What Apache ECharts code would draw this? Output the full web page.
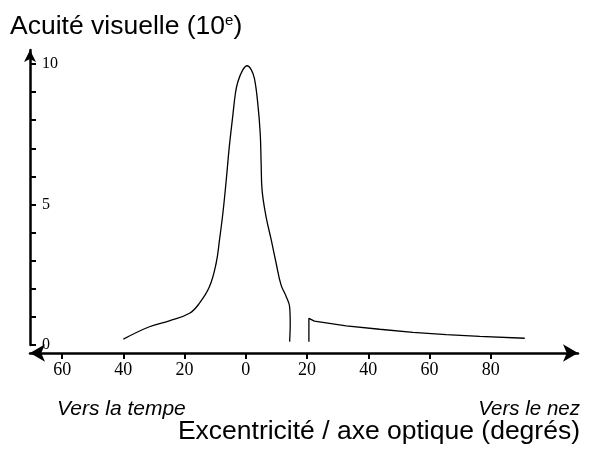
<!DOCTYPE html>
<html>
<head>
<meta charset="utf-8">
<script src="https://cdn.jsdelivr.net/npm/echarts@6/dist/echarts.min.js"></script>
<style>html,body{margin:0;padding:0;background:#fff}#c{width:589px;height:450px}</style>
</head>
<body>
<div id="c"></div>
<script>
// Central (temporal + fovea) part of the acuity curve
const centralX = [-40, -31.5, -25, -18.4, -15.2, -11.9, -9.7, -8.6, -7.5, -6.4, -5.4, -4.3, -3.4, -2.6, -1.0, 0.4, 1.7, 2.8, 3.9, 4.7, 5.0, 5.3, 6.6, 8.3, 9.9, 11.5, 13.2, 14.3, 14.5, 14.3];
const centralY = [0.21, 0.65, 0.86, 1.13, 1.48, 2.07, 2.91, 3.74, 4.69, 5.87, 7.06, 8.12, 8.96, 9.37, 9.79, 9.94, 9.81, 9.49, 8.60, 7.53, 6.47, 5.52, 4.57, 3.74, 2.91, 2.14, 1.72, 1.36, 0.77, 0.12];
// Nasal part (after the blind spot)
const nasalX = [20.6, 20.6, 22.4, 32.8, 43.7, 54.6, 65.5, 76.4, 91.1];
const nasalY = [0.12, 0.95, 0.85, 0.68, 0.56, 0.45, 0.37, 0.31, 0.24];
// Tick labels
const xTicks = [-60, -40, -20, 0, 20, 40, 60, 80];
const yTicks = [0, 1, 2, 3, 4, 5, 6, 7, 8, 9, 10];
const yLabels = [0, 5, 10];

const pair = (xs, ys) => xs.map((x, i) => [x, ys[i]]);

const chart = echarts.init(document.getElementById('c'));
chart.setOption({
  animation: false,
  title: [
    { text: 'Acuité visuelle (10{sup|e})', left: 5, top: 8,
      textStyle: { fontFamily: 'Liberation Sans', fontSize: 26.5, fontWeight: 'normal', color: '#000',
        rich: { sup: { fontFamily: 'Liberation Sans', fontSize: 15, verticalAlign: 'top', padding: [0, 0, 12, 0], color: '#000' } } } },
    { text: 'Vers la tempe', left: 52, top: 394,
      textStyle: { fontFamily: 'Liberation Sans', fontSize: 21, fontStyle: 'italic', fontWeight: 'normal', color: '#000' } },
    { text: 'Vers le nez', right: 4, top: 394,
      textStyle: { fontFamily: 'Liberation Sans', fontSize: 20.5, fontStyle: 'italic', fontWeight: 'normal', color: '#000' } },
    { text: 'Excentricité / axe optique (degrés)', right: 4, top: 413,
      textStyle: { fontFamily: 'Liberation Sans', fontSize: 26.5, fontWeight: 'normal', color: '#000' } }
  ],
  grid: { left: 30, right: 11, top: 50, bottom: 105, containLabel: false },
  xAxis: {
    type: 'value', min: -70.5, max: 108.5, offset: 8,
    splitLine: { show: false },
    axisLine: { onZero: false, lineStyle: { color: '#000', width: 2.5 }, symbol: ['arrow', 'arrow'], symbolSize: [13, 15] },
    axisTick: { customValues: xTicks, length: 6, lineStyle: { color: '#000', width: 2 } },
    axisLabel: { customValues: xTicks, formatter: v => String(Math.abs(v)), margin: 8,
      fontFamily: 'Liberation Serif', fontSize: 18, color: '#000' }
  },
  yAxis: {
    type: 'value', min: 0, max: 10.5,
    splitLine: { show: false },
    axisLine: { onZero: false, lineStyle: { color: '#000', width: 2.5 }, symbol: ['none', 'arrow'], symbolSize: [9, 12] },
    axisTick: { customValues: yTicks, inside: true, length: 6, lineStyle: { color: '#000', width: 2 } },
    axisLabel: { customValues: yLabels, inside: true, margin: 12, padding: [8, 0, 0, 0],
      fontFamily: 'Liberation Serif', fontSize: 16, color: '#000' }
  },
  series: [
    { type: 'line', data: pair(centralX, centralY), smooth: 0.4, symbol: 'none',
      lineStyle: { color: '#000', width: 1.3 } },
    { type: 'line', data: pair(nasalX, nasalY), smooth: false, symbol: 'none',
      lineStyle: { color: '#000', width: 1.3 } }
  ]
});
</script>
</body>
</html>
